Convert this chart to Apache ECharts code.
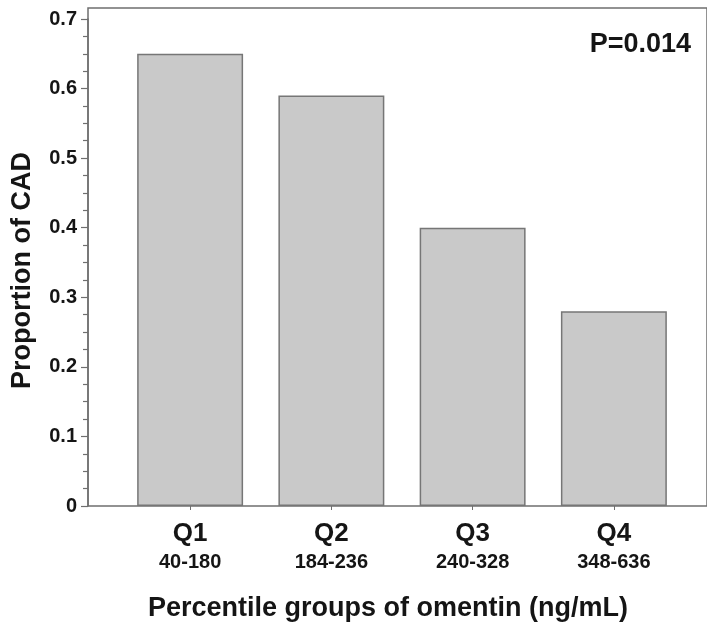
<!DOCTYPE html>
<html>
<head>
<meta charset="utf-8">
<script src="https://cdn.jsdelivr.net/npm/echarts@6/dist/echarts.min.js"></script>
<style>
  html, body { margin: 0; padding: 0; background: #fff; }
  #chart { width: 707px; height: 628px; }
</style>
</head>
<body>
<div id="chart"></div>
<script>
  const groups = ['Q1', 'Q2', 'Q3', 'Q4']
  const ranges = ['40-180', '184-236', '240-328', '348-636']
  const proportions = [0.65, 0.59, 0.40, 0.28]
  const yTicks = [0, 0.1, 0.2, 0.3, 0.4, 0.5, 0.6, 0.7]

  const font = 'Liberation Sans, Arial, sans-serif'
  const lineColor = '#6f6f6f'
  const textColor = '#151515'

  const chart = echarts.init(document.getElementById('chart'))
  const option = {
    animation: false,
    textStyle: { fontFamily: font },
    title: {
      text: 'P=0.014',
      right: 16,
      top: 31,
      padding: 0,
      textStyle: { fontFamily: font, fontSize: 27, fontWeight: 'bold', color: textColor }
    },
    grid: [
      // bars live here
      { left: 119.5, right: 22.5, top: 19, bottom: 122 },
      // plot frame (top line runs a bit above 0.7)
      { left: 88, right: -3, top: 8, bottom: 122, show: true, borderColor: lineColor, borderWidth: 1.5 }
    ],
    xAxis: [
      {
        type: 'category',
        gridIndex: 0,
        data: groups,
        axisLine: { show: false },
        axisTick: { show: true, alignWithLabel: true, length: 4, lineStyle: { color: lineColor } },
        axisLabel: {
          margin: 13,
          formatter: function (v, i) {
            return '{q|' + v + '}\n{r|' + ranges[i] + '}'
          },
          rich: {
            q: { fontFamily: font, fontSize: 26, fontWeight: 'bold', color: textColor, lineHeight: 30 },
            r: { fontFamily: font, fontSize: 20, fontWeight: 'bold', color: textColor, lineHeight: 26 }
          }
        },
        name: 'Percentile groups of omentin (ng/mL)',
        nameLocation: 'middle',
        nameGap: 89,
        nameTextStyle: { fontFamily: font, fontSize: 27, fontWeight: 'bold', color: textColor, padding: [0, 28, 0, 0] }
      },
      { type: 'value', gridIndex: 1, show: false }
    ],
    yAxis: [
      {
        type: 'value',
        gridIndex: 0,
        min: 0,
        max: 0.7,
        interval: 0.1,
        offset: 31.5,
        axisLine: { show: true, lineStyle: { color: lineColor, width: 1.5 } },
        axisTick: { show: true, length: 7, lineStyle: { color: lineColor, width: 1.2 } },
        minorTick: { show: true, splitNumber: 4, length: 5, lineStyle: { color: lineColor, width: 1.2 } },
        splitLine: { show: false },
        axisLabel: {
          margin: 11,
          fontFamily: font,
          fontSize: 20,
          fontWeight: 'bold',
          color: textColor,
          formatter: function (v) {
            return yTicks.indexOf(Math.round(v * 10) / 10) >= 0 ? (v === 0 ? '0' : v.toFixed(1)) : ''
          }
        },
        name: 'Proportion of CAD',
        nameLocation: 'middle',
        nameGap: 52,
        nameTextStyle: { fontFamily: font, fontSize: 27, fontWeight: 'bold', color: textColor, padding: [0, 16, 0, 0] }
      },
      { type: 'value', gridIndex: 1, show: false }
    ],
    series: [
      {
        type: 'bar',
        xAxisIndex: 0,
        yAxisIndex: 0,
        data: proportions,
        barWidth: '75%',
        itemStyle: { color: '#c9c9c9', borderColor: '#767676', borderWidth: 1.5 }
      }
    ]
  }
  chart.setOption(option)
</script>
</body>
</html>
